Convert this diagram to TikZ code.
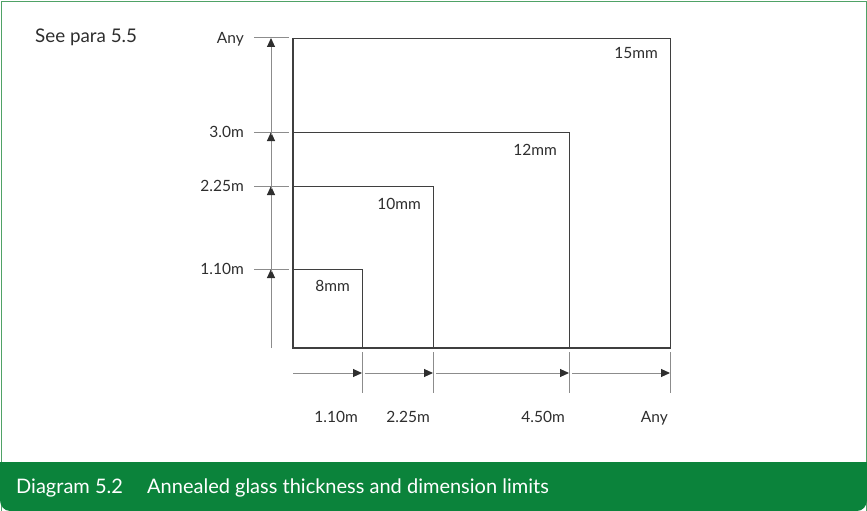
\documentclass[tikz,border=0pt]{standalone}
\usepackage{fontspec}
\setmainfont{Lato}
\usetikzlibrary{arrows.meta}
\definecolor{capgreen}{HTML}{0B833B}
\definecolor{framegreen}{HTML}{4FA266}
\definecolor{boxline}{HTML}{3F3F3F}
\definecolor{dimline}{HTML}{8C8C8C}
\definecolor{txt}{HTML}{2E2E2E}
\tikzset{
  glass/.style={draw=boxline, line width=0.9pt},
  tickline/.style={draw=dimline, line width=1pt},
  dimarrow/.style={draw=dimline, line width=1pt, -{Triangle[length=9pt,width=8pt,fill=txt,color=txt]}},
  lab/.style={text=txt, font=\fontsize{15.5}{17}\selectfont, inner sep=0pt},
}
\begin{document}
\begin{tikzpicture}[x=1pt,y=-1pt]
\useasboundingbox (0,0) rectangle (867,511);
% frame
\draw[framegreen, line width=1pt] (1,511) -- (1,1.5) -- (866,1.5) -- (866,511);
\fill[capgreen] (0,462) -- (867,462) -- (867,500) to[out=-90,in=0] (857,511) -- (10,511) to[out=180,in=-90] (0,500) -- cycle;
\node[anchor=base west, text=white, font=\fontsize{20}{23}\selectfont, inner sep=0pt] (capnum) at (16,493) {Diagram 5.2};
\node[anchor=base west, text=white, font=\fontsize{20}{23}\selectfont, inner sep=0pt] (captxt) at (147,493) {Annealed glass thickness and dimension limits};
\node[anchor=base west, text=txt, font=\fontsize{18.8}{21}\selectfont, inner sep=0pt] (see) at (35,43) {See para 5.5};
% rectangles
\coordinate (O) at (293,348);
\draw[glass] (O) rectangle (670,38);
\draw[glass] (O) rectangle (569,132);
\draw[glass] (O) rectangle (433,186);
\draw[glass] (O) rectangle (362,269);
\draw[boxline, line width=1.6pt] (293,38) -- (O) -- (670,348);
\node[lab, anchor=base east] (t15) at (658,59) {15mm};
\node[lab, anchor=base east] (t12) at (557,155) {12mm};
\node[lab, anchor=base east] (t10) at (421,209) {10mm};
\node[lab, anchor=base east] (t8) at (350,291) {8mm};
% left ticks
\foreach \yy/\nm in {38/ya,132/yb,186/yc,269/yd}{
  \coordinate (\nm l) at (254,\yy);
  \coordinate (\nm r) at (289,\yy);
  \draw[tickline] (\nm l) -- (\nm r);
}
\node[lab, anchor=base east] (lany) at (244,44) {Any};
\node[lab, anchor=base east] (l30) at (244,137) {3.0m};
\node[lab, anchor=base east] (l225) at (244,191) {2.25m};
\node[lab, anchor=base east] (l110) at (244,274) {1.10m};
% vertical arrows
\coordinate (v0) at (271,348);
\coordinate (v1) at (271,269);
\coordinate (v1b) at (271,272);
\coordinate (v2) at (271,186);
\coordinate (v2b) at (271,189);
\coordinate (v3) at (271,132);
\coordinate (v3b) at (271,135);
\coordinate (v4) at (271,38);
\draw[dimarrow] (v0) -- (v1);
\draw[dimarrow] (v1b) -- (v2);
\draw[dimarrow] (v2b) -- (v3);
\draw[dimarrow] (v3b) -- (v4);
% bottom ticks
\foreach \xx/\nm in {362/xa,433/xb,569/xc,670/xd}{
  \coordinate (\nm t) at (\xx,352);
  \coordinate (\nm b) at (\xx,393);
  \draw[tickline] (\nm t) -- (\nm b);
}
\coordinate (h0) at (293,373);
\coordinate (h1) at (362,373);
\coordinate (h1b) at (365,373);
\coordinate (h2) at (433,373);
\coordinate (h2b) at (436,373);
\coordinate (h3) at (569,373);
\coordinate (h3b) at (572,373);
\coordinate (h4) at (670,373);
\draw[dimarrow] (h0) -- (h1);
\draw[dimarrow] (h1b) -- (h2);
\draw[dimarrow] (h2b) -- (h3);
\draw[dimarrow] (h3b) -- (h4);
\node[lab, anchor=base east] (b110) at (358,422) {1.10m};
\node[lab, anchor=base east] (b225) at (430,422) {2.25m};
\node[lab, anchor=base east] (b450) at (565,422) {4.50m};
\node[lab, anchor=base east] (bany) at (668,422) {Any};
\end{tikzpicture}
\end{document}
